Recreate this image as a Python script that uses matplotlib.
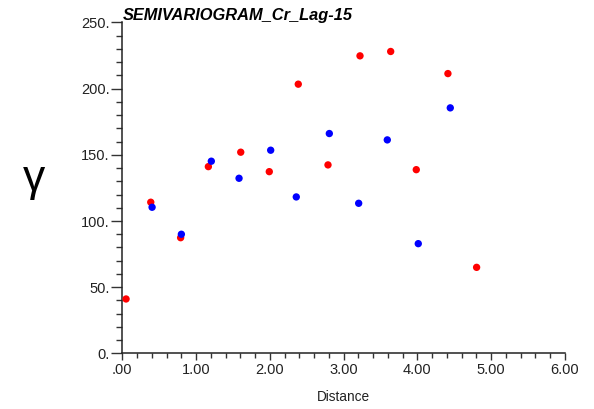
import matplotlib.pyplot as plt
from matplotlib.ticker import MultipleLocator, FuncFormatter

plt.rcParams['font.family'] = ['Liberation Sans', 'DejaVu Sans']

# semivariogram points, two directions
red_dist = [0.05, 0.385, 0.79, 1.166, 1.605, 1.992, 2.385, 2.788, 3.222, 3.638, 3.985, 4.414, 4.803]
red_gamma = [41.1, 114.2, 87.4, 141.1, 152.0, 137.3, 203.4, 142.4, 224.8, 228.1, 138.8, 211.4, 65.0]

blue_dist = [0.403, 0.80, 1.206, 1.582, 2.011, 2.358, 2.806, 3.204, 3.592, 4.012, 4.446]
blue_gamma = [110.4, 90.0, 145.2, 132.3, 153.5, 118.2, 166.1, 113.4, 161.3, 82.9, 185.5]

title = "SEMIVARIOGRAM_Cr_Lag-15"


def x_fmt(v, pos):
    s = "{:.2f}".format(v)
    if s.startswith("0"):
        s = s[1:]
    return s


def y_fmt(v, pos):
    return "{:d}.".format(int(round(v)))


fig = plt.figure(figsize=(5.94, 4.09), dpi=100)
ax = fig.add_axes([0.206, 0.136, 0.745, 0.809])

ax.scatter(red_dist, red_gamma, s=28, color="#ff0000", edgecolors="none", zorder=3)
ax.scatter(blue_dist, blue_gamma, s=28, color="#0000ff", edgecolors="none", zorder=3)

ax.set_xlim(0, 6)
ax.set_ylim(0, 250)

for side in ["top", "right"]:
    ax.spines[side].set_visible(False)
for side in ["left", "bottom"]:
    ax.spines[side].set_linewidth(1.1)
    ax.spines[side].set_color("#222222")

ax.xaxis.set_major_locator(MultipleLocator(1))
ax.xaxis.set_minor_locator(MultipleLocator(0.2))
ax.yaxis.set_major_locator(MultipleLocator(50))
ax.yaxis.set_minor_locator(MultipleLocator(10))
ax.xaxis.set_major_formatter(FuncFormatter(x_fmt))
ax.yaxis.set_major_formatter(FuncFormatter(y_fmt))

ax.tick_params(axis="y", which="major", length=8, width=1, color="#333333",
               labelsize=10.5, labelcolor="#222222", pad=1)
ax.tick_params(axis="y", which="minor", length=4, width=1, color="#333333")
ax.tick_params(axis="x", which="major", length=5, width=1, color="#333333",
               labelsize=10.5, labelcolor="#222222", pad=2)
ax.tick_params(axis="x", which="minor", length=3.5, width=1, color="#333333")

ax.set_xlabel("Distance", fontsize=9.8, color="#222222", labelpad=9)

fig.text(0.207, 0.962, title, fontsize=11.8, fontweight="bold", style="italic",
         ha="left", va="center")
fig.text(0.057, 0.56, "\u03b3", fontsize=32, ha="center", va="center")

plt.savefig("out.png", dpi=100)
